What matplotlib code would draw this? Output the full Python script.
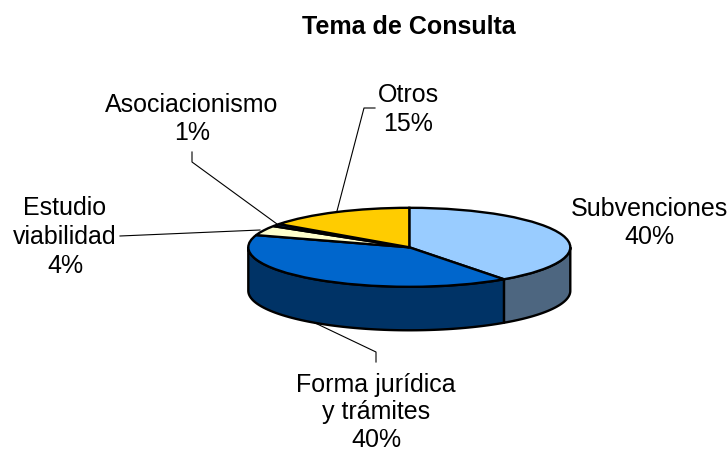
import numpy as np
import matplotlib
matplotlib.use('Agg')
import matplotlib.pyplot as plt
from matplotlib.transforms import Affine2D

plt.rcParams['font.family'] = ['Liberation Sans', 'DejaVu Sans']

labels = ['Subvenciones', 'Forma jurídica\ny trámites', 'Estudio\nviabilidad', 'Asociacionismo', 'Otros']
values = [40, 40, 4, 1, 15]
colors = ['#99CCFF', '#0066CC', '#FFFFCC', '#003366', '#FFCC00']
side_colors = ['#4D6680', '#003366', '#808066', '#001A33', '#806600']

W, H = 728, 452
cx, cy = 409.3, H - 248.3
rx, ry = 161.0, 39.5
depth = 43.5

fig = plt.figure(figsize=(W / 100, H / 100), dpi=100)
ax = fig.add_axes([0, 0, 1, 1])

wedges, _ = ax.pie(values, colors=colors, startangle=90, counterclock=False,
                   center=(cx, cy), radius=rx, frame=True,
                   wedgeprops=dict(edgecolor='black', linewidth=1.7))
ax.set_xlim(0, W)
ax.set_ylim(0, H)
ax.set_aspect('auto')
ax.axis('off')

# squash the flat pie into the top face of the disc
squash = Affine2D().translate(-cx, -cy).scale(1, ry / rx).translate(cx, cy) + ax.transData
for w in wedges:
    w.set_transform(squash)
    w.set_zorder(3)

# side wall, only the part of each slice facing the viewer
for w, c in zip(wedges, side_colors):
    for lo, hi in [(-180, 0), (180, 360)]:
        a, b = max(w.theta1, lo), min(w.theta2, hi)
        if b <= a:
            continue
        t = np.radians(np.linspace(a, b, 80))
        x = cx + rx * np.cos(t)
        y = cy + ry * np.sin(t)
        ax.fill(np.r_[x, x[::-1]], np.r_[y, y[::-1] - depth], facecolor=c,
                edgecolor='black', linewidth=1.7, zorder=2, joinstyle='round')

# leader lines (pixel coords from the top left)
leaders = [
    [(192, 153), (192, 163), (277, 225)],
    [(120, 237), (260, 231)],
    [(376, 363), (376, 353), (313, 323)],
    [(375, 109), (364, 109), (337, 212)],
]
for pts in leaders:
    px, py = zip(*pts)
    ax.plot(px, [H - p for p in py], color='black', lw=0.8, zorder=1)

fs = 18
texts = [
    (649, 223, 'Subvenciones\n40%', 1.24),
    (376, 412.5, 'Forma jurídica\ny trámites\n40%', 1.2),
    (65, 237, 'Estudio\nviabilidad\n4%', 1.24),
    (192, 119, 'Asociacionismo\n1%', 1.24),
    (408, 109.5, 'Otros\n15%', 1.24),
]
for x, y, s, sp in texts:
    ax.text(x, H - y, s, ha='center', va='center', fontsize=fs, color='black',
            linespacing=sp, zorder=4)

ax.text(409, H - 27, 'Tema de Consulta', ha='center', va='center', fontsize=fs,
        fontweight='bold', color='black', zorder=4)

fig.savefig('out.png', dpi=100, facecolor='white')
